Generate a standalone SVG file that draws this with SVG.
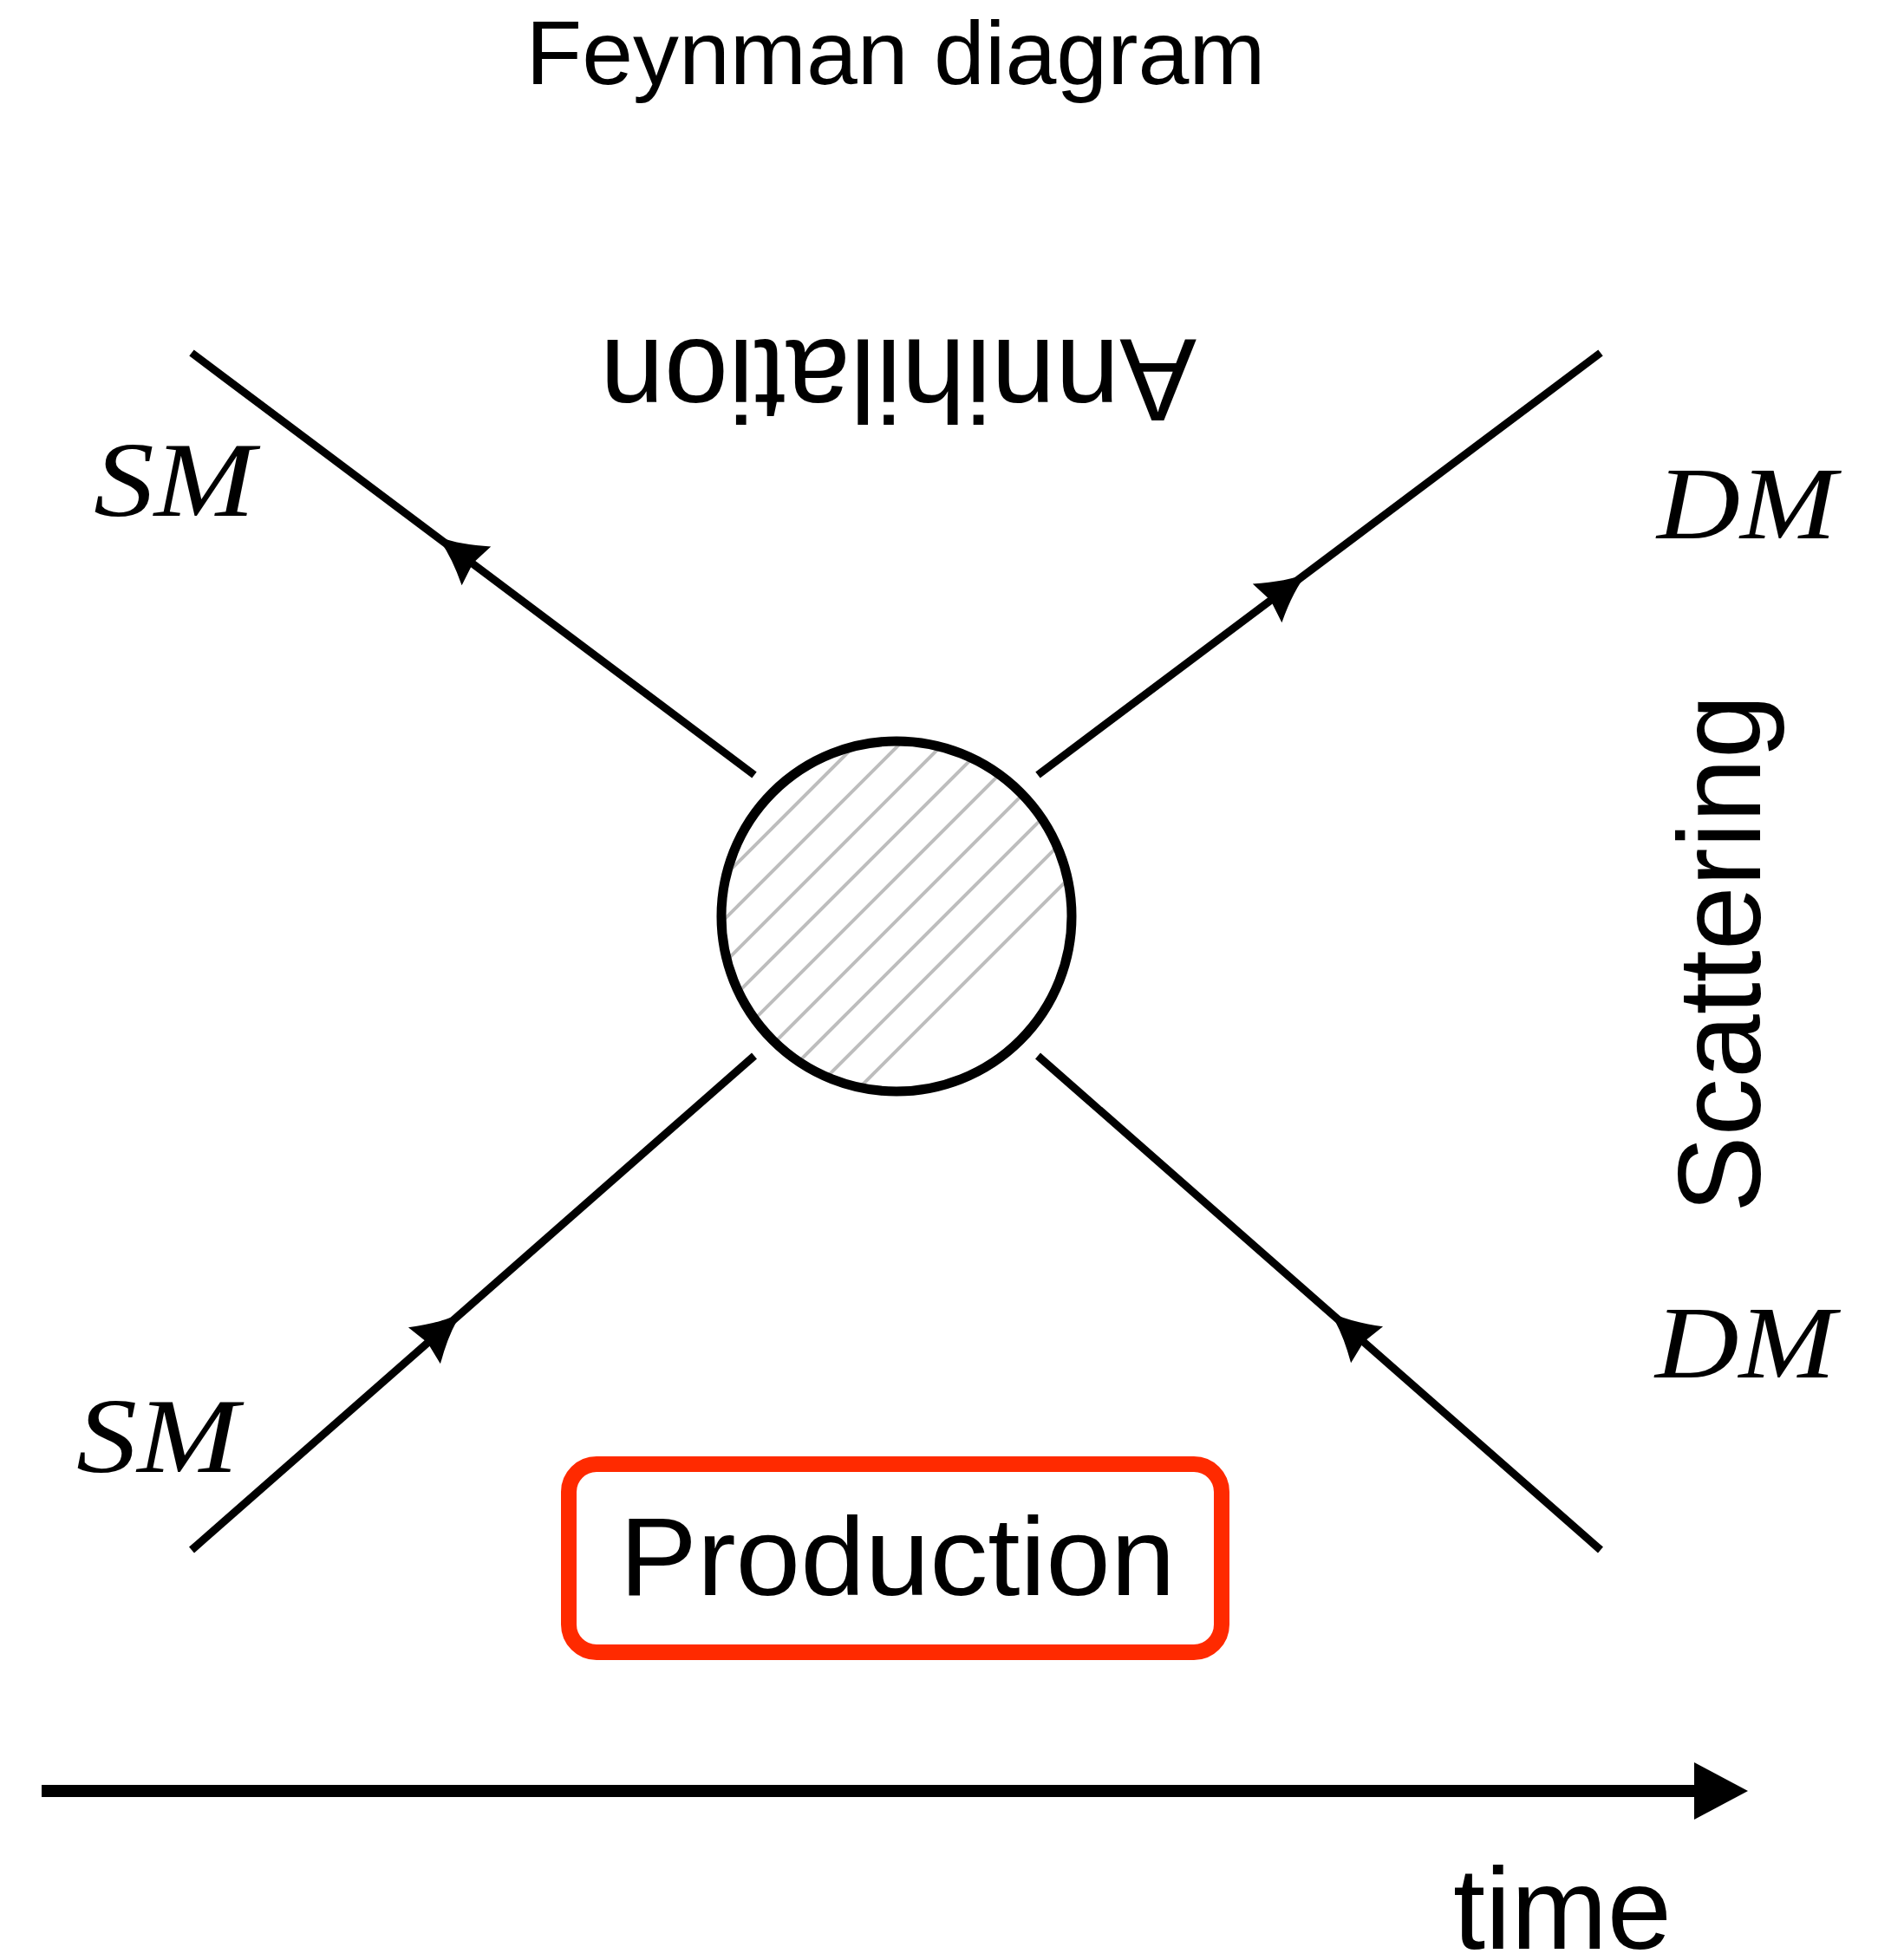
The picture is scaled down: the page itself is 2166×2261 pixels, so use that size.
<svg xmlns="http://www.w3.org/2000/svg" xmlns:xlink="http://www.w3.org/1999/xlink" width="2166" height="2261" viewBox="0 0 2166 2261">
<style>
.sans{font-family:"Liberation Sans","Arial",sans-serif;fill:#000;}
.math{font-family:"Liberation Serif","Times New Roman",serif;font-style:italic;fill:#000;}
.prop{stroke:#000;stroke-width:9;fill:none;stroke-linecap:butt;}
.hatch{stroke:#bdbdbd;stroke-width:4;}
</style>
<defs>
<path id="ah" d="M0,0 Q-25,-6 -58,-28 L-53,0 L-58,28 Q-25,6 0,0 Z" fill="#000"/>
<clipPath id="blobclip"><circle cx="1034" cy="1057" r="199"/></clipPath>
</defs>
<rect width="2166" height="2261" fill="#fff"/>
<text id="title" class="sans" x="1033" y="97" font-size="104" text-anchor="middle" textLength="853" lengthAdjust="spacingAndGlyphs">Feynman diagram</text>
<g id="connectors">
<line class="prop" x1="221" y1="407" x2="870" y2="894"/>
<line class="prop" x1="1846" y1="407" x2="1197" y2="894"/>
<line class="prop" x1="221" y1="1788" x2="870" y2="1218"/>
<line class="prop" x1="1846" y1="1788" x2="1197" y2="1218"/>
<use xlink:href="#ah" href="#ah" transform="translate(503,618) rotate(216.87)"/>
<use xlink:href="#ah" href="#ah" transform="translate(1508,661) rotate(-36.87)"/>
<use xlink:href="#ah" href="#ah" transform="translate(533,1514) rotate(-41.29)"/>
<use xlink:href="#ah" href="#ah" transform="translate(1533,1513) rotate(221.29)"/>
</g>
<g id="blob">
<circle cx="1034" cy="1057" r="202" fill="#fff"/>
<g clip-path="url(#blobclip)" class="hatch">
<line x1="711.5" y1="1334.5" x2="1311.5" y2="734.5"/>
<line x1="736.5" y1="1359.5" x2="1336.5" y2="759.5"/>
<line x1="761.5" y1="1384.5" x2="1361.5" y2="784.5"/>
<line x1="786.5" y1="1409.5" x2="1386.5" y2="809.5"/>
<line x1="811.5" y1="1434.5" x2="1411.5" y2="834.5"/>
<line x1="686.5" y1="1309.5" x2="1286.5" y2="709.5"/>
<line x1="661.5" y1="1284.5" x2="1261.5" y2="684.5"/>
<line x1="636.5" y1="1259.5" x2="1236.5" y2="659.5"/>
<line x1="611.5" y1="1234.5" x2="1211.5" y2="634.5"/>
<line x1="586.5" y1="1209.5" x2="1186.5" y2="609.5"/>
</g>
<circle cx="1034" cy="1057" r="202" fill="none" stroke="#000" stroke-width="11"/>
</g>
<g id="label-sm-top"><text class="math" x="108" y="595" font-size="122" textLength="186" lengthAdjust="spacingAndGlyphs">SM</text></g>
<g id="label-sm-bottom"><text class="math" x="88" y="1698" font-size="122" textLength="187" lengthAdjust="spacingAndGlyphs">SM</text></g>
<g id="label-dm-top"><text class="math" x="1911" y="621" font-size="118" textLength="207" lengthAdjust="spacingAndGlyphs">DM</text></g>
<g id="label-dm-bottom"><text class="math" x="1909" y="1589" font-size="118" textLength="208" lengthAdjust="spacingAndGlyphs">DM</text></g>
<g id="annihilation"><text class="sans" x="1036" y="392" font-size="135" text-anchor="middle" textLength="688" lengthAdjust="spacingAndGlyphs" transform="rotate(180 1036 392)">Annihilation</text></g>
<g id="scattering"><text class="sans" x="2030" y="1100" font-size="135" text-anchor="middle" textLength="598" lengthAdjust="spacingAndGlyphs" transform="rotate(-90 2030 1100)">Scattering</text></g>
<g id="production">
<rect x="656" y="1689" width="753" height="217" rx="32" ry="32" fill="none" stroke="#ff2a00" stroke-width="18"/>
<text class="sans" x="1035" y="1840" font-size="128" text-anchor="middle" textLength="641" lengthAdjust="spacingAndGlyphs">Production</text>
</g>
<g id="time-axis">
<line x1="48" y1="2066" x2="1958" y2="2066" stroke="#000" stroke-width="14"/>
<polygon points="1954,2033 2016,2066 1954,2099" fill="#000"/>
<text class="sans" x="1676" y="2248" font-size="133" textLength="252" lengthAdjust="spacingAndGlyphs">time</text>
</g>
</svg>
